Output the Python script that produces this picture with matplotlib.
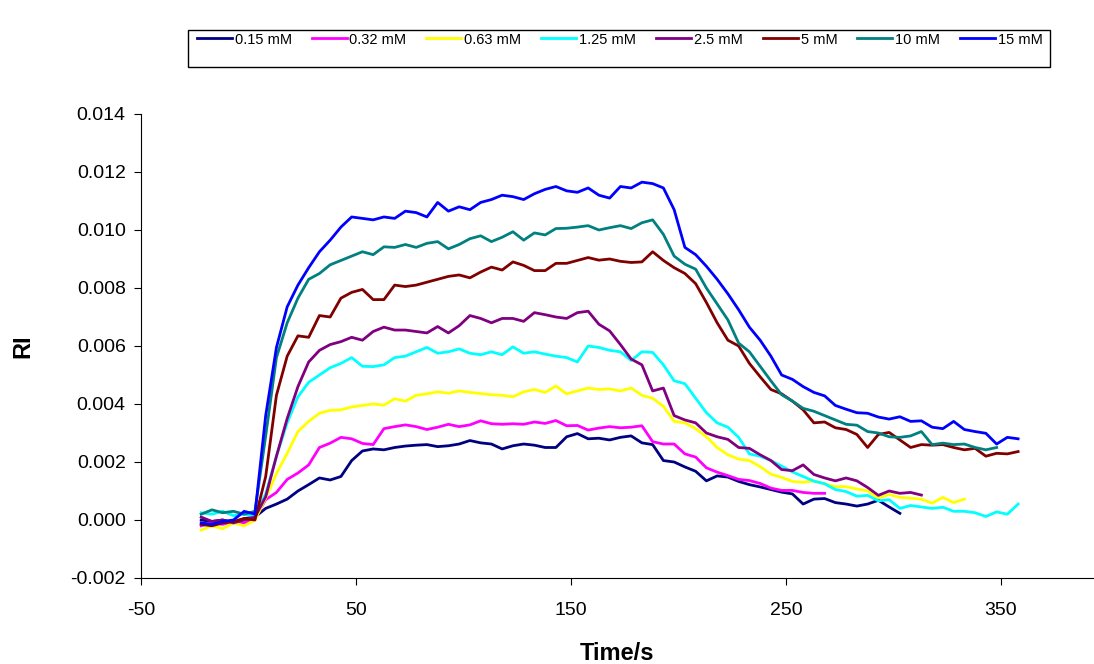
import matplotlib
matplotlib.use("Agg")
import matplotlib.pyplot as plt
from matplotlib.patches import Rectangle
from matplotlib.ticker import FormatStrFormatter

plt.rcParams["font.family"] = ["Liberation Sans", "DejaVu Sans"]
plt.rcParams["axes.unicode_minus"] = False

# sampling grid (s), every 5 s from the start of the run
TIME = list(range(-22, 360, 5))

# RI values, in units of 1e-3
ri_015 = [0.00, -0.05, 0.00, -0.10, 0.05, 0.10, 0.40, 0.55, 0.72, 1.00,
          1.22, 1.45, 1.38, 1.50, 2.05, 2.38, 2.45, 2.42, 2.50, 2.55,
          2.58, 2.60, 2.53, 2.56, 2.62, 2.74, 2.66, 2.62, 2.45, 2.56,
          2.62, 2.58, 2.50, 2.50, 2.87, 2.98, 2.80, 2.82, 2.76, 2.85,
          2.90, 2.66, 2.60, 2.05, 2.00, 1.83, 1.68, 1.35, 1.52, 1.48,
          1.33, 1.22, 1.14, 1.05, 0.96, 0.90, 0.55, 0.72, 0.74, 0.60,
          0.55, 0.48, 0.55, 0.68, 0.45, 0.23]

ri_032 = [-0.20, -0.10, -0.15, -0.05, -0.10, 0.05, 0.70, 0.95, 1.40, 1.62,
          1.90, 2.50, 2.65, 2.85, 2.80, 2.64, 2.60, 3.15, 3.22, 3.28,
          3.22, 3.12, 3.20, 3.30, 3.22, 3.28, 3.42, 3.32, 3.30, 3.32,
          3.30, 3.38, 3.33, 3.43, 3.25, 3.26, 3.10, 3.17, 3.22, 3.18,
          3.20, 3.25, 2.70, 2.62, 2.62, 2.28, 2.17, 1.80, 1.65, 1.53,
          1.40, 1.36, 1.26, 1.10, 1.02, 1.02, 0.95, 0.92, 0.92]

ri_063 = [-0.35, -0.20, -0.30, -0.10, -0.20, 0.00, 0.75, 1.60, 2.30, 3.05,
          3.40, 3.68, 3.78, 3.80, 3.90, 3.95, 4.00, 3.96, 4.18, 4.10,
          4.30, 4.35, 4.42, 4.37, 4.45, 4.40, 4.36, 4.32, 4.30, 4.25,
          4.42, 4.50, 4.40, 4.62, 4.35, 4.45, 4.55, 4.50, 4.52, 4.45,
          4.55, 4.30, 4.20, 3.92, 3.40, 3.35, 3.15, 2.87, 2.50, 2.25,
          2.10, 2.05, 1.84, 1.58, 1.47, 1.33, 1.30, 1.35, 1.25, 1.15,
          1.15, 1.07, 1.00, 0.76, 0.88, 0.78, 0.75, 0.72, 0.58, 0.78,
          0.60, 0.72]

ri_125 = [0.25, 0.20, 0.30, 0.15, 0.20, 0.15, 0.90, 2.20, 3.35, 4.25,
          4.75, 5.00, 5.25, 5.40, 5.60, 5.30, 5.29, 5.35, 5.60, 5.65,
          5.80, 5.95, 5.75, 5.80, 5.90, 5.75, 5.70, 5.80, 5.70, 5.97,
          5.75, 5.80, 5.72, 5.65, 5.60, 5.45, 6.00, 5.95, 5.85, 5.80,
          5.50, 5.80, 5.78, 5.35, 4.80, 4.70, 4.20, 3.70, 3.35, 3.20,
          2.85, 2.28, 2.20, 2.05, 1.86, 1.66, 1.50, 1.34, 1.25, 1.05,
          0.98, 0.82, 0.85, 0.66, 0.70, 0.40, 0.50, 0.45, 0.40, 0.44,
          0.30, 0.30, 0.25, 0.12, 0.28, 0.20, 0.55]

ri_25 = [0.10, -0.05, 0.00, -0.10, 0.00, 0.10, 0.80, 2.20, 3.50, 4.60,
         5.45, 5.85, 6.05, 6.15, 6.30, 6.20, 6.50, 6.65, 6.55, 6.55,
         6.50, 6.45, 6.67, 6.45, 6.70, 7.05, 6.95, 6.80, 6.95, 6.95,
         6.85, 7.15, 7.08, 7.00, 6.95, 7.15, 7.20, 6.75, 6.52, 6.05,
         5.55, 5.35, 4.45, 4.55, 3.60, 3.45, 3.35, 3.00, 2.87, 2.78,
         2.50, 2.47, 2.25, 2.05, 1.74, 1.70, 1.90, 1.57, 1.45, 1.35,
         1.45, 1.35, 1.12, 0.85, 1.00, 0.92, 0.95, 0.86]

ri_5 = [-0.15, -0.20, -0.10, -0.05, 0.05, 0.00, 1.50, 4.30, 5.65, 6.35,
        6.30, 7.05, 7.00, 7.65, 7.85, 7.95, 7.60, 7.60, 8.10, 8.05,
        8.10, 8.20, 8.30, 8.40, 8.45, 8.35, 8.55, 8.72, 8.62, 8.90,
        8.78, 8.60, 8.60, 8.85, 8.85, 8.95, 9.05, 8.96, 9.00, 8.92,
        8.88, 8.90, 9.25, 8.95, 8.70, 8.50, 8.15, 7.50, 6.80, 6.20,
        6.00, 5.40, 4.94, 4.50, 4.35, 4.10, 3.80, 3.35, 3.38, 3.18,
        3.12, 2.95, 2.50, 2.95, 3.02, 2.76, 2.50, 2.60, 2.58, 2.60,
        2.50, 2.42, 2.47, 2.20, 2.30, 2.28, 2.36]

ri_10 = [0.20, 0.35, 0.25, 0.30, 0.20, 0.30, 2.90, 5.60, 6.80, 7.65,
         8.30, 8.50, 8.80, 8.95, 9.10, 9.25, 9.15, 9.42, 9.40, 9.50,
         9.40, 9.54, 9.60, 9.35, 9.50, 9.70, 9.80, 9.60, 9.75, 9.94,
         9.65, 9.90, 9.83, 10.05, 10.06, 10.10, 10.15, 10.00, 10.08, 10.15,
         10.05, 10.25, 10.35, 9.85, 9.10, 8.82, 8.65, 8.00, 7.45, 6.90,
         6.10, 5.80, 5.30, 4.80, 4.32, 4.10, 3.85, 3.75, 3.60, 3.45,
         3.30, 3.27, 3.05, 3.00, 2.87, 2.85, 2.90, 3.05, 2.60, 2.65,
         2.60, 2.62, 2.50, 2.42, 2.50]

ri_15 = [-0.10, -0.15, -0.05, 0.00, 0.30, 0.20, 3.60, 5.95, 7.35, 8.10,
         8.70, 9.25, 9.65, 10.10, 10.45, 10.40, 10.35, 10.45, 10.40, 10.65,
         10.60, 10.45, 10.95, 10.65, 10.80, 10.70, 10.95, 11.05, 11.20, 11.15,
         11.05, 11.25, 11.40, 11.50, 11.35, 11.30, 11.45, 11.20, 11.10, 11.50,
         11.45, 11.65, 11.60, 11.45, 10.70, 9.40, 9.15, 8.75, 8.30, 7.80,
         7.25, 6.65, 6.20, 5.65, 5.00, 4.85, 4.60, 4.40, 4.28, 3.95,
         3.82, 3.70, 3.68, 3.55, 3.48, 3.56, 3.40, 3.42, 3.20, 3.15,
         3.40, 3.12, 3.05, 2.99, 2.62, 2.85, 2.80]

labels = ["0.15 mM", "0.32 mM", "0.63 mM", "1.25 mM",
          "2.5 mM", "5 mM", "10 mM", "15 mM"]
series = [ri_015, ri_032, ri_063, ri_125, ri_25, ri_5, ri_10, ri_15]
colors = ["#000080", "#FF00FF", "#FFFF00", "#00FFFF",
          "#800080", "#800000", "#008080", "#0000FF"]

fig = plt.figure(figsize=(10.94, 6.64), dpi=100)
ax = fig.add_axes([141 / 1094, 86 / 664, 953 / 1094, 464 / 664])

lines = []
for vals, col, lab in zip(series, colors, labels):
    t = TIME[:len(vals)]
    ln, = ax.plot(t, [v * 1e-3 for v in vals], color=col, lw=2.0, label=lab)
    lines.append(ln)

ax.set_xlim(-50, 393.3)
ax.set_ylim(-0.002, 0.014)
ax.set_xticks([-50, 50, 150, 250, 350])
ax.set_yticks([-0.002 + 0.002 * i for i in range(9)])
ax.yaxis.set_major_formatter(FormatStrFormatter("%.3f"))
ax.tick_params(direction="out", length=5, width=0.8, labelsize=14, pad=6)
ax.tick_params(axis="x", pad=12)

for s in ("top", "right"):
    ax.spines[s].set_visible(False)
for s in ("left", "bottom"):
    ax.spines[s].set_linewidth(0.8)

ax.set_xlabel("Time/s", fontsize=17, fontweight="bold", labelpad=17)
ax.set_ylabel("RI", fontsize=17, fontweight="bold", labelpad=26)

# legend box drawn separately (it is taller than the entries)
fig.patches.append(Rectangle((188 / 1094, 1 - 67 / 664), 862 / 1094, 37 / 664,
                             transform=fig.transFigure, fill=False,
                             edgecolor="black", lw=1.0))
fig.legend(lines, labels, ncol=8, loc="center left",
           bbox_to_anchor=(196.7 / 1094, 1 - 39.5 / 664),
           frameon=False, fontsize=10.5, handlelength=2.4,
           handletextpad=0.2, columnspacing=1.36,
           borderpad=0, borderaxespad=0)

fig.savefig("out.png", dpi=100)
